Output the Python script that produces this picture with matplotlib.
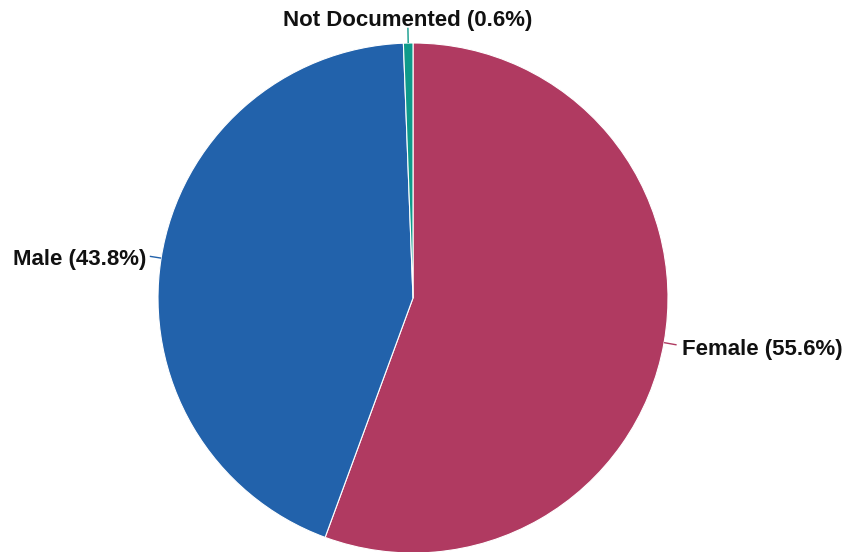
import numpy as np
import matplotlib
matplotlib.use("Agg")
import matplotlib.pyplot as plt

categories = ["Female", "Male", "Not Documented"]
values = [55.6, 43.8, 0.6]
colors = ["#B03A61", "#2262AB", "#0E9A8A"]

W, H = 845, 552
cx, cy, R = 413, 298, 255

fig = plt.figure(figsize=(W / 100, H / 100), dpi=100)
ax = fig.add_axes([0, 0, 1, 1])

wedges, _ = ax.pie(values, colors=colors, startangle=90, counterclock=False,
                   radius=1.0, wedgeprops=dict(edgecolor="white", linewidth=0.8))
ax.set_xlim(-cx / R, (W - cx) / R)
ax.set_ylim(-(H - cy) / R, cy / R)
ax.set_aspect("auto")
ax.axis("off")

label_r = [1.07, 1.06, 1.10]
line_r = [1.05, 1.045, 1.06]
dy = -0.013
for w, cat, val, col, lr, ln in zip(wedges, categories, values, colors, label_r, line_r):
    ang = np.deg2rad((w.theta1 + w.theta2) / 2)
    c, s = np.cos(ang), np.sin(ang)
    ax.plot([c * 1.0, c * ln], [s * 1.0, s * ln], color=col, lw=1.0, solid_capstyle="butt")
    if c > 0.3:
        ha = "left"
    elif c < -0.3:
        ha = "right"
    else:
        ha = "center"
    ax.text(c * lr, s * lr + dy, f"{cat} ({val}%)", ha=ha, va="center",
            fontsize=16, fontweight="bold", family="Liberation Sans", color="#111111")

fig.savefig("out.png", dpi=100)
